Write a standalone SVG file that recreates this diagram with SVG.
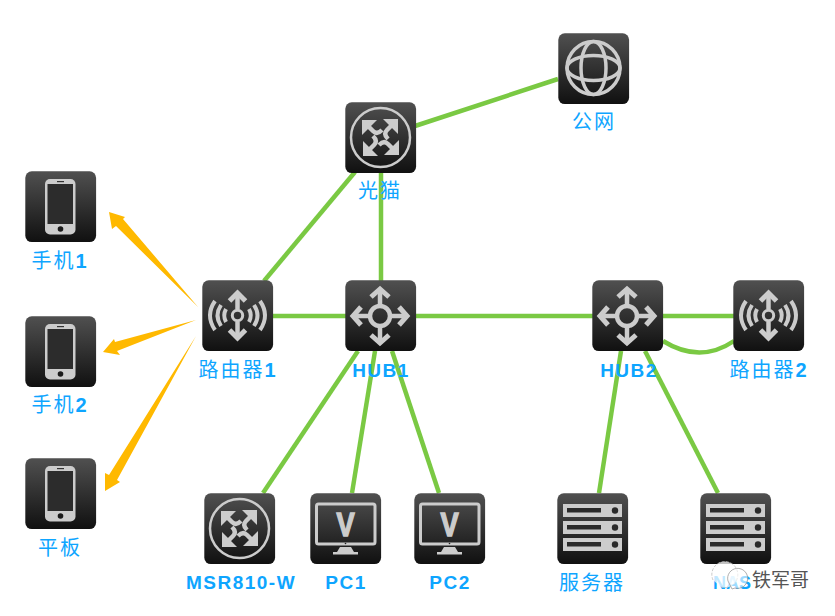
<svg xmlns="http://www.w3.org/2000/svg" xmlns:xlink="http://www.w3.org/1999/xlink" width="835" height="616" viewBox="0 0 835 616">
<style>
.lnk{fill:none;stroke:#7ac943;stroke-width:4.5}
.arw{fill:#ffb900}
.lb{font-family:"Liberation Sans","Noto Sans CJK SC",sans-serif;font-size:20px;fill:#0ea5ff;text-anchor:middle;letter-spacing:2px}
.lb tspan{font-weight:bold}
.en{font-family:"Liberation Sans",sans-serif;font-size:19px;font-weight:bold;fill:#0ea5ff;text-anchor:middle;letter-spacing:1.5px}
.g{fill:#ccc}
.s{fill:none;stroke:#ccc}
</style>
<defs>
<linearGradient id="bg" x1="0" y1="0" x2="0" y2="1"><stop offset="0" stop-color="#505050"/><stop offset="1" stop-color="#101010"/></linearGradient>
<g id="box"><rect x="0.3" y="0.3" width="70.8" height="70.8" rx="6.500" fill="url(#bg)"/></g>
<g id="phone"><use href="#box"/><rect x="20" y="8" width="30.5" height="55.5" rx="5" class="g"/><rect x="22.5" y="13" width="25.5" height="40" fill="#2c2c2c"/><circle cx="35.5" cy="58" r="2.8" fill="#1a1a1a"/><rect x="32" y="10" width="7" height="1.2" fill="#333"/></g>
<g id="router"><use href="#box"/>
<circle cx="35.5" cy="35.5" r="5.2" class="s" stroke-width="3"/>
<path d="M35.5 13V29M35.5 42V58" class="s" stroke-width="4.500"/>
<path d="M27.5 21L35.5 13L43.5 21M27.5 50L35.5 58L43.5 50" class="s" stroke-width="5"/>
<g class="s" stroke-width="4"><path d="M13 21Q3 35.5 13 50"/><path d="M19 25Q12 35.5 19 46"/><path d="M24 29Q20.5 35.5 24 42"/><path d="M58 21Q68 35.5 58 50"/><path d="M52 25Q59 35.5 52 46"/><path d="M47 29Q50.500 35.5 47 42"/></g></g>
<g id="arm"><polygon points="17,18 32,18 17,33" class="g"/><path d="M22 23L28 29Q32 33 37 28" class="s" stroke-width="4.500"/></g>
<g id="cross"><use href="#box"/><circle cx="35.5" cy="35.5" r="29.500" class="s" stroke-width="2.5"/>
<use href="#arm"/><use href="#arm" transform="rotate(90 35.500 35.500)"/><use href="#arm" transform="rotate(180 35.500 35.500)"/><use href="#arm" transform="rotate(270 35.500 35.500)"/></g>
<g id="globe"><use href="#box"/><g class="s" stroke-width="3.5"><circle cx="35.5" cy="35" r="26.5"/><ellipse cx="35.500" cy="35" rx="12.500" ry="26.5"/><ellipse cx="35.500" cy="35" rx="26.5" ry="12.500"/></g></g>
<g id="hub"><use href="#box"/><circle cx="35" cy="36" r="10" class="s" stroke-width="4.500"/>
<path d="M35 10V26M35 46V62M9 36H25M45 36H61" class="s" stroke-width="4.500"/>
<path d="M26 17L35 9L44 17M26 55L35 63L44 55M16 27L8 36L16 45M54 27L62 36L54 45" class="s" stroke-width="5"/></g>
<g id="pc"><use href="#box"/><rect x="6.500" y="11" width="58.500" height="40" rx="2" class="s" stroke-width="3"/>
<text transform="translate(35.500 43) scale(0.8 1)" font-family="Liberation Sans,sans-serif" font-size="34" font-weight="bold" text-anchor="middle" fill="#ccc" stroke="#ccc" stroke-width="1.500">V</text>
<circle cx="35.500" cy="50.500" r="0.800" fill="#222"/><polygon points="30,54 41,54 44,59 27,59" class="g"/><rect x="23" y="59" width="25" height="2.500" class="g"/></g>
<g id="server"><use href="#box"/><g id="row0"><rect x="6" y="11" width="59" height="13" class="g"/><rect x="10" y="15" width="34" height="4.500" fill="#2a2a2a"/><circle cx="58" cy="17.500" r="3.200" fill="#2a2a2a"/></g>
<use href="#row0" y="17"/><use href="#row0" y="34"/></g>
</defs>
<rect width="835" height="616" fill="#fff"/>
<g id="connectors">
<path class="lnk" d="M415 126L558 79"/>
<path class="lnk" d="M355 172L264 281"/>
<path class="lnk" d="M381 172V281"/>
<path class="lnk" d="M272 316H346"/>
<path class="lnk" d="M415 316H593"/>
<path class="lnk" d="M663 316H734"/>
<path class="lnk" d="M663 341Q700 364 734 341"/>
<path class="lnk" d="M358 351L263 493"/>
<path class="lnk" d="M375 351L352 493"/>
<path class="lnk" d="M392 351L439 493"/>
<path class="lnk" d="M621 351L599 493"/>
<path class="lnk" d="M645 351L718 493"/>
<polygon class="arw" points="198,307 116,226 112,229 109,212 125,217 123,219"/>
<polygon class="arw" points="196,320 117,351 120,355 103,352 114,339 115,342"/>
<polygon class="arw" points="196,336 117,480 120,482 105,491 105,473 109,475"/>
</g>
<g id="phone1"><use href="#phone" x="25" y="171"/><text class="lb" x="60" y="268">手机<tspan>1</tspan></text></g>
<g id="phone2"><use href="#phone" x="25" y="316"/><text class="lb" x="60" y="412">手机<tspan>2</tspan></text></g>
<g id="tablet"><use href="#phone" x="25" y="458"/><text class="lb" x="60" y="555">平板</text></g>
<g id="router1"><use href="#router" x="202" y="280"/><text class="lb" x="238" y="377">路由器<tspan>1</tspan></text></g>
<g id="modem"><use href="#cross" x="345" y="102"/><text class="lb" x="380" y="198">光猫</text></g>
<g id="internet"><use href="#globe" x="558" y="33"/><text class="lb" x="594" y="129">公网</text></g>
<g id="hub1"><use href="#hub" x="345" y="280"/><text class="en" x="381" y="377">HUB1</text></g>
<g id="hub2"><use href="#hub" x="592" y="280"/><text class="en" x="629" y="377">HUB2</text></g>
<g id="router2"><use href="#router" x="733" y="280"/><text class="lb" x="769" y="377">路由器<tspan>2</tspan></text></g>
<g id="msr"><use href="#cross" x="204" y="493"/><text class="en" x="241" y="589">MSR810-W</text></g>
<g id="pc1"><use href="#pc" x="310" y="493"/><text class="en" x="346" y="589">PC1</text></g>
<g id="pc2"><use href="#pc" x="414" y="493"/><text class="en" x="450" y="589">PC2</text></g>
<g id="srv"><use href="#server" x="557" y="493"/><text class="lb" x="592" y="590">服务器</text></g>
<g id="nas"><use href="#server" x="700" y="493"/><text class="en" x="732" y="589" style="font-size:18px;letter-spacing:0">NAS</text></g>
<g id="watermark">
<path d="M713 580a13 13 0 1 1 8 7" fill="#fff" fill-opacity="0.75" stroke="#bbb" stroke-width="0.8" stroke-dasharray="3 1.500"/>
<path d="M728 581a10 10 0 1 1 7 7l-3 1z" fill="#fff" fill-opacity="0.6" stroke="#999" stroke-width="0.8"/>
<text x="752" y="587" font-family="Noto Sans CJK SC,sans-serif" font-size="19" fill="#555">铁军哥</text>
</g>
</svg>
